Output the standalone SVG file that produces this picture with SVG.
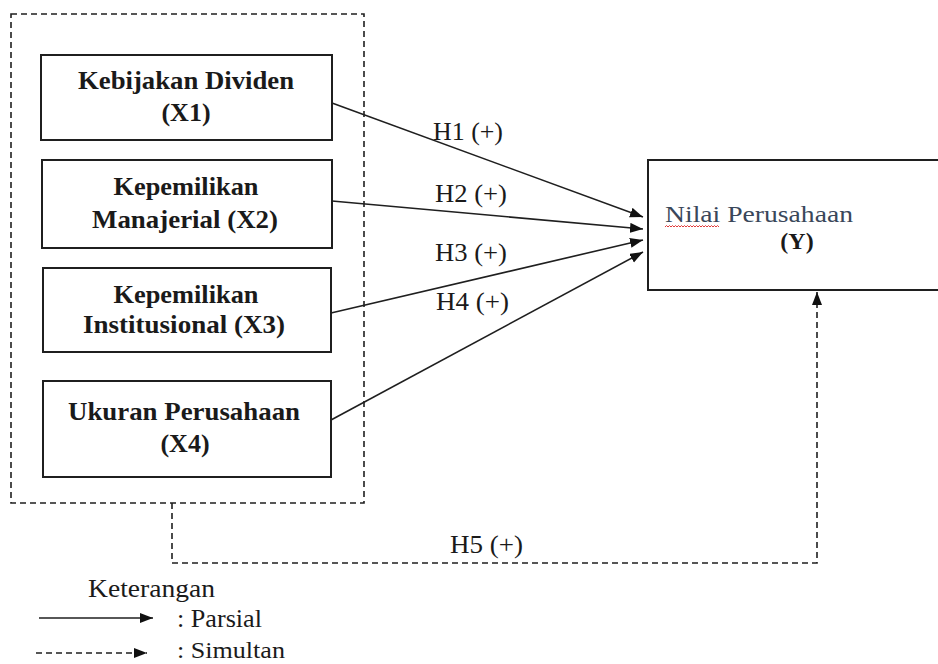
<svg xmlns="http://www.w3.org/2000/svg" width="938" height="664" viewBox="0 0 938 664">
<style>
.box{fill:#fff;stroke:#1f1f1f;stroke-width:2}
.dash{fill:none;stroke:#1f1f1f;stroke-width:1.6;stroke-dasharray:6 4}
.ln{fill:none;stroke:#1f1f1f;stroke-width:1.6}
.b{font-family:"Liberation Serif","Times New Roman",serif;font-weight:bold;font-size:26px;fill:#1a1a1a;text-anchor:middle}
.r{font-family:"Liberation Serif","Times New Roman",serif;font-size:26px;fill:#1a1a1a}
</style>
<defs>
<marker id="ah" markerUnits="userSpaceOnUse" markerWidth="14" markerHeight="11" refX="13" refY="5" orient="auto">
<path d="M0,0 L13,5 L0,10 z" fill="#111"/>
</marker>
</defs>
<rect width="938" height="664" fill="#fff"/>

<g id="group-X">
<rect x="11" y="14" width="353" height="489" class="dash"/>
</g>

<g id="X1">
<rect x="41" y="55" width="291" height="85" class="box"/>
<text x="186" y="89" class="b" textLength="216" lengthAdjust="spacingAndGlyphs">Kebijakan Dividen</text>
<text x="186" y="121" class="b">(X1)</text>
</g>

<g id="X2">
<rect x="42" y="160" width="290" height="88" class="box"/>
<text x="186" y="195" class="b" textLength="145" lengthAdjust="spacingAndGlyphs">Kepemilikan</text>
<text x="185" y="228" class="b" textLength="186" lengthAdjust="spacingAndGlyphs">Manajerial (X2)</text>
</g>

<g id="X3">
<rect x="43" y="268" width="288" height="84" class="box"/>
<text x="186" y="303" class="b" textLength="145" lengthAdjust="spacingAndGlyphs">Kepemilikan</text>
<text x="184" y="333" class="b" textLength="202" lengthAdjust="spacingAndGlyphs">Institusional (X3)</text>
</g>

<g id="X4">
<rect x="43" y="381" width="288" height="96" class="box"/>
<text x="184" y="420" class="b" textLength="232" lengthAdjust="spacingAndGlyphs">Ukuran Perusahaan</text>
<text x="185" y="452" class="b">(X4)</text>
</g>

<g id="Y">
<rect x="648" y="160" width="300" height="130" class="box"/>
<text x="665" y="222" class="r" style="fill:#3a475a;font-size:24px" textLength="188" lengthAdjust="spacingAndGlyphs">Nilai Perusahaan</text>
<path d="M665,227 l1.5,-1.5 l1.5,1.5 l1.5,-1.5 l1.5,1.5 l1.5,-1.5 l1.5,1.5 l1.5,-1.5 l1.5,1.5 l1.5,-1.5 l1.5,1.5 l1.5,-1.5 l1.5,1.5 l1.5,-1.5 l1.5,1.5 l1.5,-1.5 l1.5,1.5 l1.5,-1.5 l1.5,1.5 l1.5,-1.5 l1.5,1.5 l1.5,-1.5 l1.5,1.5 l1.5,-1.5 l1.5,1.5 l1.5,-1.5 l1.5,1.5 l1.5,-1.5 l1.5,1.5 l1.5,-1.5 l1.5,1.5 l1.5,-1.5 l1.5,1.5 l1.5,-1.5 l1.5,1.5 l1.5,-1.5 l1.5,1.5" fill="none" stroke="#e03a3a" stroke-width="1"/>
<text x="797" y="249" class="b" style="font-size:24px">(Y)</text>
</g>

<g id="connectors">
<path d="M332,103 L643,217" class="ln" marker-end="url(#ah)"/>
<path d="M332,201 L643,229" class="ln" marker-end="url(#ah)"/>
<path d="M331,313 L643,240" class="ln" marker-end="url(#ah)"/>
<path d="M331,420 L643,252" class="ln" marker-end="url(#ah)"/>
<path d="M172,503 V563 H817 V292" class="dash" marker-end="url(#ah)"/>
<text x="433" y="140" class="r" textLength="70" lengthAdjust="spacingAndGlyphs">H1 (+)</text>
<text x="435" y="202" class="r" textLength="72" lengthAdjust="spacingAndGlyphs">H2 (+)</text>
<text x="435" y="261" class="r" textLength="72" lengthAdjust="spacingAndGlyphs">H3 (+)</text>
<text x="436" y="310" class="r" textLength="73" lengthAdjust="spacingAndGlyphs">H4 (+)</text>
<text x="450" y="553" class="r" textLength="73" lengthAdjust="spacingAndGlyphs">H5 (+)</text>
</g>

<g id="legend">
<text x="88" y="597" class="r" textLength="127" lengthAdjust="spacingAndGlyphs">Keterangan</text>
<path d="M39,618 H153" class="ln" marker-end="url(#ah)"/>
<text x="177" y="627" class="r" textLength="85" lengthAdjust="spacingAndGlyphs">: Parsial</text>
<path d="M36,653 H147" class="dash" marker-end="url(#ah)"/>
<text x="177" y="658" class="r" style="font-size:24px" textLength="108" lengthAdjust="spacingAndGlyphs">: Simultan</text>
</g>
</svg>
